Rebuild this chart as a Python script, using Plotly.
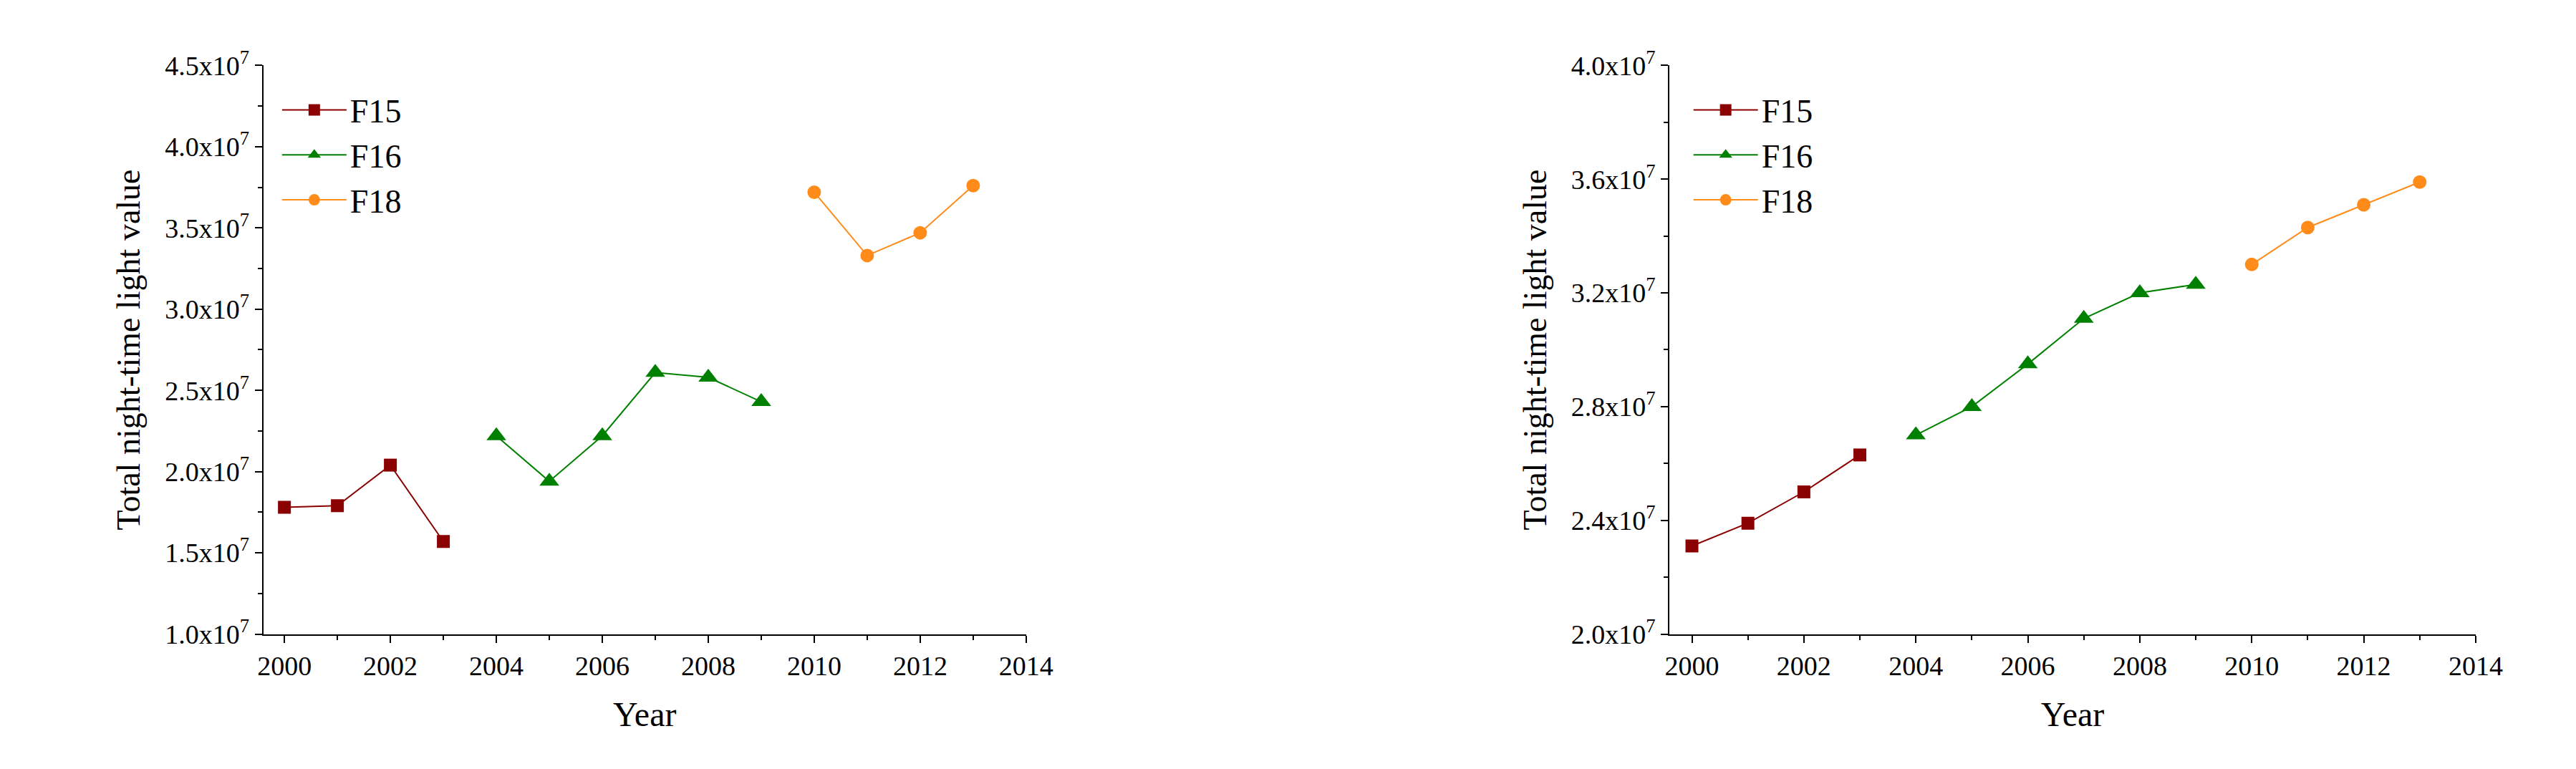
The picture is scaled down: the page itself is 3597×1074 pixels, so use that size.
import plotly.graph_objects as go

years_f15 = [2000, 2001, 2002, 2003]
years_f16 = [2004, 2005, 2006, 2007, 2008, 2009]
years_f18 = [2010, 2011, 2012, 2013]

left_f15 = [1.78e7, 1.79e7, 2.04e7, 1.57e7]
left_f16 = [2.22e7, 1.94e7, 2.22e7, 2.61e7, 2.58e7, 2.43e7]
left_f18 = [3.72e7, 3.33e7, 3.47e7, 3.76e7]

right_f15 = [2.31e7, 2.39e7, 2.50e7, 2.63e7]
right_f16 = [2.70e7, 2.80e7, 2.95e7, 3.11e7, 3.20e7, 3.23e7]
right_f18 = [3.30e7, 3.43e7, 3.51e7, 3.59e7]

left_ticks = [1.0e7, 1.5e7, 2.0e7, 2.5e7, 3.0e7, 3.5e7, 4.0e7, 4.5e7]
left_labels = ["1.0x10<sup>7</sup>", "1.5x10<sup>7</sup>", "2.0x10<sup>7</sup>", "2.5x10<sup>7</sup>",
               "3.0x10<sup>7</sup>", "3.5x10<sup>7</sup>", "4.0x10<sup>7</sup>", "4.5x10<sup>7</sup>"]
right_ticks = [2.0e7, 2.4e7, 2.8e7, 3.2e7, 3.6e7, 4.0e7]
right_labels = ["2.0x10<sup>7</sup>", "2.4x10<sup>7</sup>", "2.8x10<sup>7</sup>", "3.2x10<sup>7</sup>",
                "3.6x10<sup>7</sup>", "4.0x10<sup>7</sup>"]
x_ticks = [2000, 2002, 2004, 2006, 2008, 2010, 2012, 2014]

C15, C16, C18 = "#8B0000", "#008000", "#FF8C1A"
FONT = "Liberation Serif"

fig = go.Figure()
series = [
    ("F15", C15, "square", 18), ("F16", C16, "triangle-up", 24), ("F18", C18, "circle", 19)]
for panel, (xa, ya, leg, data) in enumerate([
        ("x", "y", "legend", [left_f15, left_f16, left_f18]),
        ("x2", "y2", "legend2", [right_f15, right_f16, right_f18])]):
    for (name, col, sym, sz), xs, ys in zip(series, [years_f15, years_f16, years_f18], data):
        fig.add_trace(go.Scatter(x=xs, y=ys, name=name, mode="lines+markers",
                                 line=dict(color=col, width=2),
                                 marker=dict(color=col, symbol=sym, size=sz),
                                 xaxis=xa, yaxis=ya, legend=leg))

axis_common = dict(showline=True, linecolor="black", linewidth=2, ticks="outside",
                   ticklen=10, tickwidth=2, tickcolor="black", showgrid=False, zeroline=False,
                   tickfont=dict(family=FONT, size=38, color="black"),
                   minor=dict(ticks="outside", ticklen=6, tickwidth=2, tickcolor="black"))
xcommon = dict(axis_common, range=[1999.6, 2014], tickvals=x_ticks,
               title=dict(text="Year", font=dict(family=FONT, size=48, color="black"), standoff=30))
ytitle = dict(text="Total night-time light value", font=dict(family=FONT, size=46, color="black"),
              standoff=20)

fig.update_layout(
    width=3597, height=1074, paper_bgcolor="white", plot_bgcolor="white",
    margin=dict(l=0, r=0, t=0, b=0),
    xaxis=dict(xcommon, domain=[0.099, 0.399], anchor="y"),
    yaxis=dict(axis_common, domain=[0.171, 0.945], range=[1.0e7, 4.5e7], tickvals=left_ticks,
               ticktext=left_labels, anchor="x", title=ytitle,
               minor=dict(axis_common["minor"], dtick=0.25e7)),
    xaxis2=dict(xcommon, domain=[0.652, 0.969], anchor="y2"),
    yaxis2=dict(axis_common, domain=[0.171, 0.945], range=[2.0e7, 4.0e7], tickvals=right_ticks,
                ticktext=right_labels, anchor="x2", title=ytitle,
                minor=dict(axis_common["minor"], dtick=0.2e7)),
    legend=dict(x=0.105, y=0.92, xanchor="left", yanchor="top", bgcolor="rgba(0,0,0,0)",
                font=dict(family=FONT, size=46, color="black"), itemwidth=90),
    legend2=dict(x=0.66, y=0.92, xanchor="left", yanchor="top", bgcolor="rgba(0,0,0,0)",
                 font=dict(family=FONT, size=46, color="black"), itemwidth=90),
)
fig.write_html("out.html")
